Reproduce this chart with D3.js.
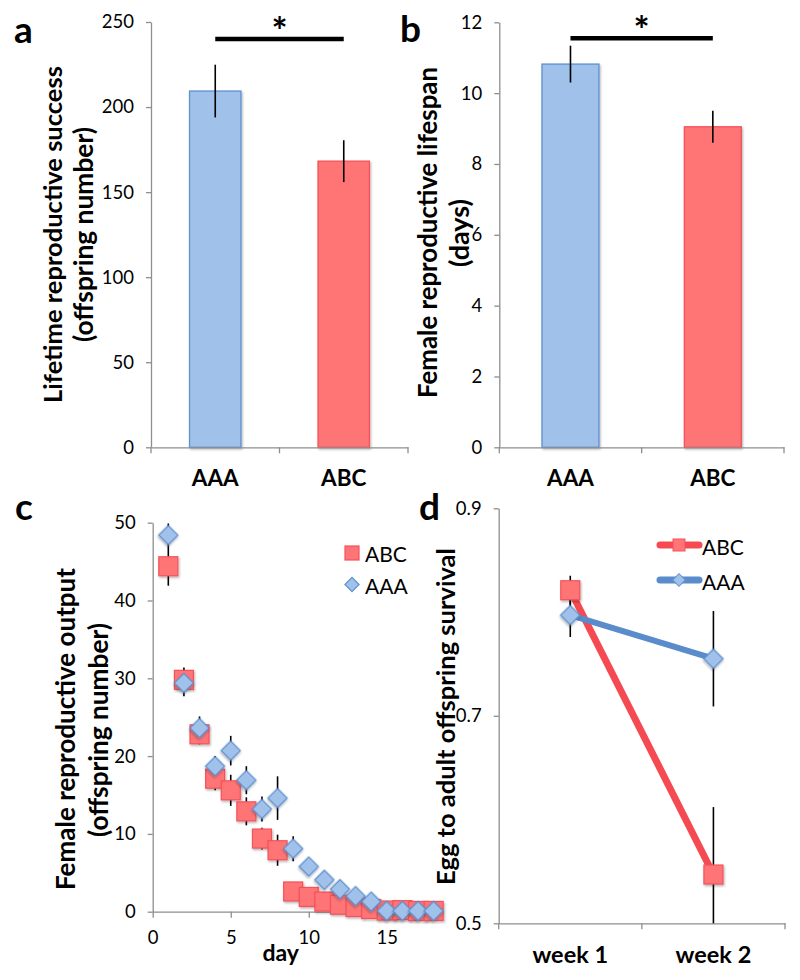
<!DOCTYPE html>
<html><head><meta charset="utf-8">
<script src="https://cdn.jsdelivr.net/npm/d3@7"></script>
<style>body{margin:0;background:#fff} text{font-family:Lato,"Open Sans",sans-serif;fill:#000}</style>
</head><body><svg id="chart" width="800" height="980"></svg>
<script>
// ---------- data ----------
const groups = ["AAA", "ABC"];
const lifetimeMean = [209.4, 168.2];
const lifetimeErr = [15.5, 12.3];
const lifespanMean = [10.82, 9.05];
const lifespanErr = [0.52, 0.45];
const ticksA = [0, 50, 100, 150, 200, 250];
const ticksB = [0, 2, 4, 6, 8, 10, 12];

const days = [1,2,3,4,5,6,7,8,9,10,11,12,13,14,15,16,17,18];
const outputABC = [44.4, 29.8, 22.8, 17.1, 15.6, 12.9, 9.4, 7.9, 2.6, 1.9, 1.3, 0.9, 0.6, 0.35, 0.15, 0.2, 0.1, 0.1];
const outputABCErr = [2.5, 1.6, 1.3, 1.5, 2.0, 1.8, 1.4, 2.0, 0.6, 0.5, 0.4, 0.3, 0.3, 0.2, 0.1, 0.1, 0.1, 0.1];
const outputAAA = [48.4, 29.4, 23.6, 18.7, 20.7, 16.9, 13.2, 14.6, 8.1, 5.8, 4.1, 2.9, 2.0, 1.3, 0.1, 0.1, 0.1, 0.1];
const outputAAAErr = [1.5, 1.7, 1.5, 1.3, 1.9, 1.8, 1.6, 2.8, 1.6, 0.9, 0.6, 0.5, 0.4, 0.3, 0.1, 0.1, 0.1, 0.1];
const ticksCy = [0, 10, 20, 30, 40, 50];
const ticksCx = [0, 5, 10, 15];

const weeks = ["week 1", "week 2"];
const survivalABC = [0.821, 0.547];
const survivalABCErr = [0.014, 0.065];
const survivalAAA = [0.797, 0.755];
const survivalAAAErr = [0.021, 0.046];
const ticksD = [0.5, 0.7, 0.9];

// ---------- style ----------
const AXIS = "#8e8e8e";
const BLUE_FILL = "#a0c1e9", BLUE_STROKE = "#5f90cf", BLUE_LINE = "#5a8ccb";
const RED_FILL = "#ff7476", RED_STROKE = "#f4525b", RED_LINE = "#f64a52";

const svg = d3.select("#chart");
const defs = svg.append("defs");
defs.append("filter").attr("id","sh").attr("x","-30%").attr("y","-30%").attr("width","160%").attr("height","160%")
  .append("feDropShadow").attr("dx",1).attr("dy",1.5).attr("stdDeviation",1.2)
  .attr("flood-color","#000").attr("flood-opacity",0.3);

function fit(sel, width){
  const w = sel.node().getComputedTextLength();
  const fs = parseFloat(sel.attr("font-size"));
  sel.attr("font-size", fs * width / w);
}
function styleAxis(g){
  g.selectAll("path.domain").attr("stroke", AXIS).attr("stroke-width", 1.3);
  g.selectAll(".tick line").attr("stroke", AXIS).attr("stroke-width", 1.3);
  g.selectAll(".tick text").attr("font-family","Lato").attr("font-size", 18.5).attr("fill","#000");
}
function yTitle(lines, cx, cy, widths, size){
  lines.forEach((t,i)=>{
    const s = svg.append("text").text(t)
      .attr("transform",`translate(${cx[i]},${cy[i]}) rotate(-90)`)
      .attr("text-anchor","middle").attr("dominant-baseline","central")
      .attr("font-weight","bold").attr("font-size", size);
    fit(s, widths[i]);
  });
}
function panelLetter(t, x, y){
  svg.append("text").text(t).attr("x",x).attr("y",y).attr("font-weight","bold").attr("font-size",37);
}
function star(x, y){
  svg.append("text").text("*").attr("x",x).attr("y",y).attr("text-anchor","middle")
    .attr("font-weight","bold").attr("font-size",38);
}

// ---------- bar panel helper ----------
function barPanel(opt){
  const x = d3.scaleBand().domain(groups).range(opt.xr).padding(0);
  const y = d3.scaleLinear().domain(opt.ydom).range(opt.yr);
  const bw = x.bandwidth() * opt.barFrac;
  const g = svg.append("g");
  g.selectAll("rect.bar").data(groups).join("rect")
    .attr("x", d => x(d) + x.bandwidth()/2 - bw/2)
    .attr("y", (d,i) => y(opt.mean[i]))
    .attr("width", bw)
    .attr("height", (d,i) => y(0) - y(opt.mean[i]))
    .attr("fill", (d,i) => i === 0 ? BLUE_FILL : RED_FILL)
    .attr("stroke", (d,i) => i === 0 ? BLUE_STROKE : RED_STROKE)
    .attr("stroke-width", 1.3)
    .attr("filter","url(#sh)");
  g.selectAll("line.err").data(groups).join("line")
    .attr("x1", d => x(d) + x.bandwidth()/2).attr("x2", d => x(d) + x.bandwidth()/2)
    .attr("y1", (d,i) => y(opt.mean[i] + opt.err[i]))
    .attr("y2", (d,i) => y(opt.mean[i] - opt.err[i]))
    .attr("stroke","#000").attr("stroke-width",1.6);
  const ya = svg.append("g").attr("transform",`translate(${opt.xr[0]},0)`)
    .call(d3.axisLeft(y).tickValues(opt.ticks).tickSizeInner(5).tickSizeOuter(0).tickPadding(12));
  styleAxis(ya);
  const xa = svg.append("g").attr("transform",`translate(0,${y(0)})`)
    .call(d3.axisBottom(x).tickSize(0).tickPadding(0));
  styleAxis(xa);
  xa.selectAll(".tick text").attr("font-weight","bold").attr("font-size",22.5).attr("dy",null)
    .attr("y", 39);
  const bounds = groups.map(d => x(d)).concat([x(groups[groups.length-1]) + x.step()]);
  svg.append("g").selectAll("line").data(bounds).join("line")
    .attr("x1", d => d).attr("x2", d => d).attr("y1", y(0)).attr("y2", y(0) + 6)
    .attr("stroke", AXIS).attr("stroke-width", 1.3);
  const cx = groups.map(d => x(d) + x.bandwidth()/2);
  svg.append("line").attr("x1", cx[0]).attr("x2", cx[1])
    .attr("y1", y(opt.sig)).attr("y2", y(opt.sig)).attr("stroke","#000").attr("stroke-width",4.5);
  star((cx[0]+cx[1])/2, y(opt.sig) + 6);
  return {x, y};
}

// ---------- panel a ----------
panelLetter("a", 14, 43);
barPanel({xr:[151,408], yr:[447.3,22], ydom:[0,250], mean:lifetimeMean, err:lifetimeErr,
  ticks:ticksA, barFrac:0.4, sig:240});
yTitle(["Lifetime reproductive success","(offspring number)"], [52,83], [234.5,234.5], [337,215], 24);

// ---------- panel b ----------
panelLetter("b", 400, 42);
barPanel({xr:[499.3,784], yr:[447.3,22.3], ydom:[0,12], mean:lifespanMean, err:lifespanErr,
  ticks:ticksB, barFrac:0.4, sig:11.55});
yTitle(["Female reproductive lifespan","(days)"], [427,458], [232.5,233], [331,68], 24);

// ---------- panel c ----------
panelLetter("c", 15, 520);
{
  const x = d3.scaleLinear().domain([0,18.6]).range([152.7,443]);
  const y = d3.scaleLinear().domain([0,50]).range([911.7,522.7]);
  const ya = svg.append("g").attr("transform",`translate(${x(0)},0)`)
    .call(d3.axisLeft(y).tickValues(ticksCy).tickSizeInner(5).tickSizeOuter(0).tickPadding(12));
  styleAxis(ya);
  const xa = svg.append("g").attr("transform",`translate(0,${y(0)})`)
    .call(d3.axisBottom(x).tickValues(ticksCx).tickSizeInner(6).tickSizeOuter(0).tickPadding(13));
  styleAxis(xa);
  svg.append("text").text("day").attr("x", x(8.2)).attr("y", 961).attr("text-anchor","middle")
    .attr("font-weight","bold").attr("font-size",23);

  const g = svg.append("g");
  const both = [{v:outputABC,e:outputABCErr},{v:outputAAA,e:outputAAAErr}];
  both.forEach(s => {
    g.append("g").selectAll("line").data(days).join("line")
      .attr("x1", d => x(d)).attr("x2", d => x(d))
      .attr("y1", (d,i) => y(s.v[i] + s.e[i])).attr("y2", (d,i) => y(Math.max(0, s.v[i] - s.e[i])))
      .attr("stroke","#000").attr("stroke-width",1.6);
  });
  const sq = 19;
  g.append("g").selectAll("rect").data(days).join("rect")
    .attr("x", d => x(d) - sq/2).attr("y", (d,i) => y(outputABC[i]) - sq/2)
    .attr("width", sq).attr("height", sq)
    .attr("fill", RED_FILL).attr("stroke", RED_STROKE).attr("stroke-width",1.2).attr("filter","url(#sh)");
  const dm = 13.5;
  g.append("g").selectAll("rect").data(days).join("rect")
    .attr("x", -dm/2).attr("y", -dm/2).attr("width", dm).attr("height", dm)
    .attr("transform", (d,i) => `translate(${x(d)},${y(outputAAA[i])}) rotate(45)`)
    .attr("fill", BLUE_FILL).attr("stroke", BLUE_STROKE).attr("stroke-width",1.3).attr("filter","url(#sh)");
  svg.append("rect").attr("x", 352-7).attr("y", 553-7).attr("width",14).attr("height",14)
    .attr("fill", RED_FILL).attr("stroke", RED_STROKE).attr("stroke-width",1.2);
  svg.append("text").text("ABC").attr("x",365).attr("y",562).attr("font-size",21);
  svg.append("rect").attr("x",-5).attr("y",-5).attr("width",10).attr("height",10)
    .attr("transform","translate(352,584.5) rotate(45)")
    .attr("fill", BLUE_FILL).attr("stroke", BLUE_STROKE).attr("stroke-width",1.2);
  svg.append("text").text("AAA").attr("x",365).attr("y",593.5).attr("font-size",21);
}
yTitle(["Female reproductive output","(offspring number)"], [65,98], [729,730], [322,214], 24);

// ---------- panel d ----------
panelLetter("d", 419, 520);
{
  const x = d3.scaleBand().domain(weeks).range([498.7,785]).padding(0);
  const y = d3.scaleLinear().domain([0.5,0.9]).range([923.3,508.3]);
  const cx = d => x(d) + x.bandwidth()/2;
  const ya = svg.append("g").attr("transform",`translate(${x.range()[0]},0)`)
    .call(d3.axisLeft(y).tickValues(ticksD).tickFormat(d3.format(".1f")).tickSizeInner(5).tickSizeOuter(0).tickPadding(12));
  styleAxis(ya);
  const xa = svg.append("g").attr("transform",`translate(0,${y(0.5)})`)
    .call(d3.axisBottom(x).tickSize(0).tickPadding(0));
  styleAxis(xa);
  xa.selectAll(".tick text").attr("font-weight","bold").attr("font-size",23.5).attr("dy",null).attr("y",40);
  const bounds = weeks.map(d => x(d)).concat([x(weeks[weeks.length-1]) + x.step()]);
  svg.append("g").selectAll("line").data(bounds).join("line")
    .attr("x1", d => d).attr("x2", d => d).attr("y1", y(0.5)).attr("y2", y(0.5) + 6)
    .attr("stroke", AXIS).attr("stroke-width", 1.3);

  const series = [
    {v:survivalABC, e:survivalABCErr, line:RED_LINE, w:7},
    {v:survivalAAA, e:survivalAAAErr, line:BLUE_LINE, w:6}
  ];
  series.forEach(s => {
    svg.append("g").selectAll("line").data(weeks).join("line")
      .attr("x1", d => cx(d)).attr("x2", d => cx(d))
      .attr("y1", (d,i) => y(s.v[i] + s.e[i])).attr("y2", (d,i) => y(Math.max(0.5, s.v[i] - s.e[i])))
      .attr("stroke","#000").attr("stroke-width",1.6);
  });
  const line = d3.line().x(d => cx(d[0])).y(d => y(d[1]));
  series.forEach((s, si) => {
    svg.append("path").datum(weeks.map((w,i) => [w, s.v[i]])).attr("d", line)
      .attr("fill","none").attr("stroke", s.line).attr("stroke-width", s.w).attr("stroke-linecap","round");
    if (si === 0) {
      svg.append("g").selectAll("rect").data(weeks).join("rect")
        .attr("x", d => cx(d) - 9.5).attr("y", (d,i) => y(s.v[i]) - 9.5).attr("width",19).attr("height",19)
        .attr("fill", RED_FILL).attr("stroke", RED_STROKE).attr("stroke-width",1.2).attr("filter","url(#sh)");
    } else {
      svg.append("g").selectAll("rect").data(weeks).join("rect")
        .attr("x",-6.8).attr("y",-6.8).attr("width",13.6).attr("height",13.6)
        .attr("transform",(d,i) => `translate(${cx(d)},${y(s.v[i])}) rotate(45)`)
        .attr("fill", BLUE_FILL).attr("stroke", BLUE_STROKE).attr("stroke-width",1.3).attr("filter","url(#sh)");
    }
  });
  const lg = [{t:"ABC", c:RED_LINE, y:545, sq:true},{t:"AAA", c:BLUE_LINE, y:580, sq:false}];
  lg.forEach(l => {
    svg.append("line").attr("x1",660).attr("x2",699).attr("y1",l.y).attr("y2",l.y)
      .attr("stroke", l.c).attr("stroke-width",7).attr("stroke-linecap","round");
    if (l.sq) {
      svg.append("rect").attr("x",673).attr("y",l.y-6).attr("width",12).attr("height",12)
        .attr("fill", RED_FILL).attr("stroke", RED_STROKE).attr("stroke-width",1);
    } else {
      svg.append("rect").attr("x",-4.5).attr("y",-4.5).attr("width",9).attr("height",9)
        .attr("transform",`translate(679,${l.y}) rotate(45)`)
        .attr("fill", BLUE_FILL).attr("stroke", BLUE_STROKE).attr("stroke-width",1);
    }
    svg.append("text").text(l.t).attr("x",702).attr("y",l.y+10).attr("font-size",21);
  });
}
yTitle(["Egg to adult offspring survival"], [445], [716.5], [337], 24);
</script></body></html>
